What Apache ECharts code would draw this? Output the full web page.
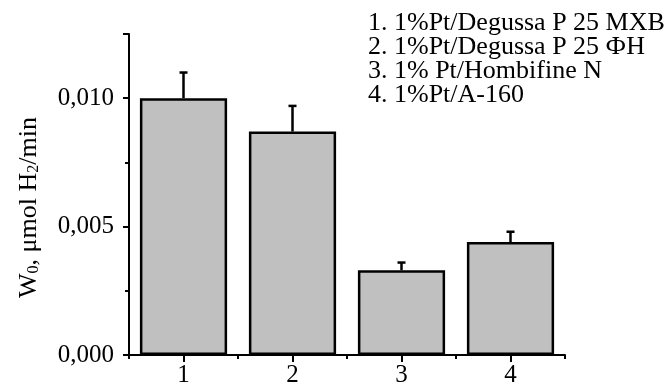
<!DOCTYPE html>
<html>
<head>
<meta charset="utf-8">
<script src="https://cdn.jsdelivr.net/npm/echarts@6/dist/echarts.min.js"></script>
<style>
  html, body { margin: 0; padding: 0; background: #fff; }
  #chart { width: 669px; height: 388px; }
</style>
</head>
<body>
<div id="chart"></div>
<script>
var categories = ["1", "2", "3", "4"];
var rates = [0.0100, 0.0087, 0.0033, 0.0044];
var errors = [0.0010, 0.0010, 0.0003, 0.0004];
var legendLines = [
    "1. 1%Pt/Degussa P 25 МХВ",
    "2. 1%Pt/Degussa P 25 ФН",
    "3. 1% Pt/Hombifine N",
    "4. 1%Pt/A-160"
];

var FONT = "Liberation Serif";

var errData = [];
for (var i = 0; i < rates.length; ++i) {
    errData.push([i, rates[i], rates[i] + errors[i]]);
}

var chart = echarts.init(document.getElementById('chart'));
var option = {
    animation: false,
    backgroundColor: '#fff',
    title: {
        text: legendLines.join('\n'),
        left: 363,
        top: 6,
        textStyle: {
            fontFamily: FONT,
            fontSize: 26,
            fontWeight: 'normal',
            color: '#000',
            lineHeight: 24
        }
    },
    grid: { left: 129, right: 104, top: 34, bottom: 33 },
    xAxis: [
        {
            type: 'category',
            data: categories,
            axisLine: { lineStyle: { color: '#000', width: 2 } },
            axisTick: { show: true, length: 4, lineStyle: { color: '#000', width: 2 } },
            axisLabel: { show: false },
            splitLine: { show: false }
        },
        {
            type: 'category',
            data: categories,
            position: 'bottom',
            axisLine: { show: false },
            axisTick: { show: true, alignWithLabel: true, length: 7, lineStyle: { color: '#000', width: 2 } },
            axisLabel: {
                color: '#000', fontFamily: FONT, fontSize: 25, margin: 8
            },
            splitLine: { show: false }
        }
    ],
    yAxis: {
        type: 'value',
        min: 0,
        max: 0.0125,
        interval: 0.005,
        name: '{n|W}{s|0}{n|, μmol H}{s|2}{n|/min}',
        nameLocation: 'middle',
        nameGap: 87,
        nameRotate: 90,
        nameTextStyle: {
            padding: [0, 26, 0, 0],
            rich: {
                n: { fontFamily: FONT, fontSize: 26, color: '#000', verticalAlign: 'bottom', lineHeight: 30 },
                s: { fontFamily: FONT, fontSize: 16, color: '#000', verticalAlign: 'bottom', lineHeight: 24 }
            }
        },
        axisLine: { show: true, lineStyle: { color: '#000', width: 2 } },
        axisTick: { show: true, length: 6, lineStyle: { color: '#000', width: 2 } },
        minorTick: { show: true, splitNumber: 2, length: 4, lineStyle: { color: '#000', width: 2 } },
        splitLine: { show: false },
        axisLabel: {
            color: '#000', fontFamily: FONT, fontSize: 25, margin: 15,
            formatter: function (v) {
                if (v > 0.0101) return '';
                return v.toFixed(3).replace('.', ',');
            }
        }
    },
    series: [
        {
            type: 'bar',
            data: rates,
            barWidth: '80%',
            itemStyle: { color: '#c0c0c0', borderColor: '#000', borderWidth: 2.5 },
            z: 2
        },
        {
            type: 'custom',
            data: errData,
            z: 3,
            renderItem: function (params, api) {
                var base = api.coord([api.value(0), api.value(1)]);
                var top = api.coord([api.value(0), api.value(2)]);
                var half = 4;
                var st = { stroke: '#000', lineWidth: 2.5 };
                return {
                    type: 'group',
                    children: [
                        { type: 'line', shape: { x1: base[0], y1: base[1], x2: top[0], y2: top[1] }, style: st },
                        { type: 'line', shape: { x1: top[0] - half, y1: top[1], x2: top[0] + half, y2: top[1] }, style: st }
                    ]
                };
            }
        }
    ]
};
chart.setOption(option);
</script>
</body>
</html>
